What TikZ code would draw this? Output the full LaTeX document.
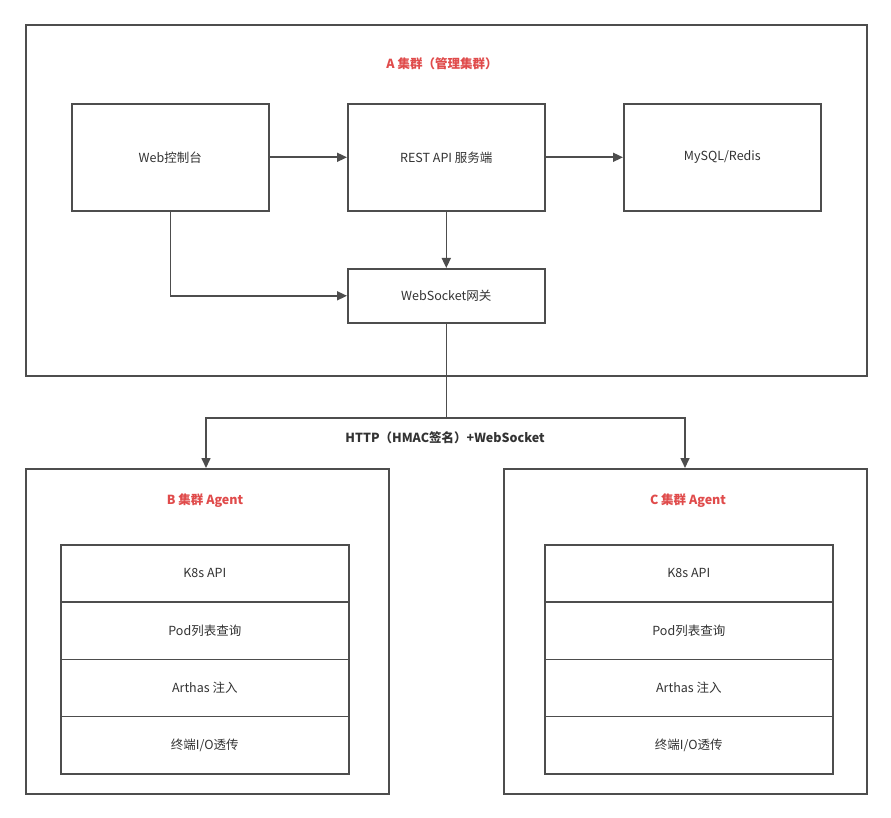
\documentclass[tikz,border=0pt]{standalone}
\usepackage{fontspec}
\setmainfont{Noto Sans CJK SC}
\usetikzlibrary{arrows.meta}
\definecolor{linec}{HTML}{4D4D4D}
\definecolor{titlec}{HTML}{E04B4B}
\definecolor{textc}{HTML}{333333}
\begin{document}
\begin{tikzpicture}[x=1pt,y=-1pt,
  box/.style={draw=linec,line width=1.6pt,fill=white,anchor=north west,inner sep=0pt},
  txt/.style={font=\fontsize{12.5}{14}\selectfont,text=textc},
  ttl/.style={font=\fontsize{12.5}{14}\selectfont\bfseries,text=titlec},
  conn/.style={draw=linec,line width=1.6pt,-{Triangle[length=10pt,width=9pt]}},
  lbl/.style={font=\fontsize{12.5}{14}\selectfont\bfseries,text=textc}]
\useasboundingbox (0,0) rectangle (891,818);
\fill[white] (0,0) rectangle (891,818);
% cluster frames
\node[box,minimum width=841pt,minimum height=351pt] (A) at (25,24) {};
\node[box,minimum width=363pt,minimum height=325pt] (B) at (25,468) {};
\node[box,minimum width=363pt,minimum height=325pt] (C) at (503,468) {};
\node[ttl] (At) at (442,64) {A 集群（管理集群）};
\node[ttl] (Bt) at (205,501) {B 集群 Agent};
\node[ttl] (Ct) at (688,501) {C 集群 Agent};
% A boxes
\node[box,minimum width=197pt,minimum height=107pt] (web) at (71,103) {};
\node[txt] (webt) at (web.center) {Web控制台};
\node[box,minimum width=197pt,minimum height=107pt] (rest) at (347,103) {};
\node[txt] (restt) at (rest.center) {REST API 服务端};
\node[box,minimum width=197pt,minimum height=107pt] (db) at (623,103) {};
\node[txt] (dbt) at (db.center) {MySQL/Redis};
\node[box,minimum width=197pt,minimum height=54pt] (ws) at (347,268) {};
\node[txt] (wst) at (ws.center) {WebSocket网关};
% connectors in A
\draw[conn] (web.east) -- (rest.west);
\draw[conn] (rest.east) -- (db.west);
\draw[conn] (rest.south) -- (ws.north);
\draw[conn] (web.south) |- (ws.west);
% agent stacks
\foreach \n/\t [count=\i from 0] in {k/{K8s API},p/{Pod列表查询},a/{Arthas 注入},t/{终端I/O透传}}{
  \node[box,minimum width=288pt,minimum height=57.25pt] (B\n) at (60,544+57.25*\i) {};
  \node[txt] (B\n t) at (B\n.center) {\t};
  \node[box,minimum width=288pt,minimum height=57.25pt] (C\n) at (544,544+57.25*\i) {};
  \node[txt] (C\n t) at (C\n.center) {\t};
}
% links to agents
\coordinate (j) at (ws.south |- 0,418);
\coordinate (bl) at (206,418);
\coordinate (cr) at (685,418);
\draw[draw=linec,line width=1.6pt] (ws.south) -- (j);
\draw[conn] (j) -- (bl) -- (B.north -| bl);
\draw[conn] (j) -- (cr) -- (C.north -| cr);
\node[lbl] (L) at (445,438) {HTTP（HMAC签名）+WebSocket};
\end{tikzpicture}
\end{document}
